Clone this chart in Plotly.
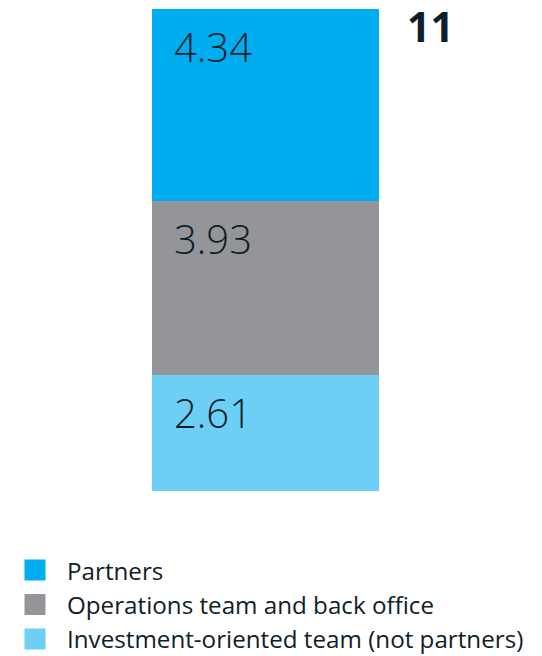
import plotly.graph_objects as go

categories = ["Team"]
series_names = ["Investment-oriented team (not partners)", "Operations team and back office", "Partners"]
series_values = [2.61, 3.93, 4.34]
colors = ["#6DCFF6", "#939598", "#00AEEF"]
total_label = "11"

TEXT = "#0F1D28"
FONT = "Open Sans"

fig = go.Figure()
for name, v, c in zip(series_names, series_values, colors):
    fig.add_trace(go.Bar(x=categories, y=[v], width=1, marker=dict(color=c, line=dict(width=0)),
                         name=name, showlegend=False, hoverinfo="skip"))
# legend entries (larger square swatches)
for name, c in zip(series_names, colors):
    fig.add_trace(go.Scatter(x=categories, y=[None], mode="markers", name=name,
                             marker=dict(symbol="square", size=16, color=c,
                                         line=dict(width=5, color=c))))

cum = 0
for v in series_values:
    cum += v
    fig.add_annotation(x=-0.5, y=cum, xref="x", yref="y", text=f"{v:.2f}", showarrow=False,
                       xanchor="left", yanchor="top", xshift=20, yshift=-8,
                       font=dict(family=FONT, size=40, color=TEXT, weight=300))

fig.add_annotation(x=0.5, y=sum(series_values), xref="x", yref="y", text=f"<b>{total_label}</b>",
                   showarrow=False, xanchor="left", yanchor="top", xshift=26, yshift=13,
                   font=dict(family=FONT, size=41, color=TEXT))

fig.update_layout(
    width=542, height=656,
    margin=dict(l=144, r=171, t=1, b=173, autoexpand=False),
    barmode="stack",
    paper_bgcolor="white", plot_bgcolor="white",
    xaxis=dict(range=[-0.5, 0.5], visible=False),
    yaxis=dict(range=[0, sum(series_values)], visible=False),
    showlegend=True,
    legend=dict(x=-149/227, y=-0.118, xanchor="left", yanchor="top",
                traceorder="reversed", itemwidth=54,
                font=dict(family=FONT, size=24.2, color=TEXT), bgcolor="rgba(0,0,0,0)"),
)

fig.write_html("out.html")
